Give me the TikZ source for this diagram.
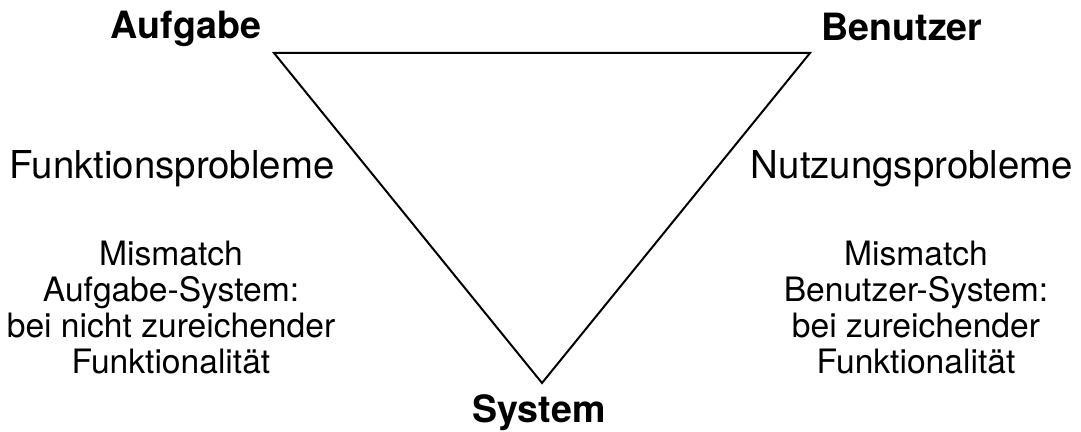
\documentclass[tikz,border=0pt]{standalone}
\usepackage{fontspec}
\setmainfont{TeX Gyre Heros}
\usepackage{tikz}

\begin{document}
\begin{tikzpicture}[
  x=0.5pt,
  y=0.5pt,
  edge/.style={draw=black, line width=1pt, line join=miter},
  corner/.style={font=\fontsize{18.8}{22}\selectfont\bfseries, anchor=base},
  problem/.style={font=\fontsize{19.2}{23}\selectfont, anchor=base},
  mismatch/.style={font=\fontsize{16.8}{18}\selectfont, align=center}
]
\useasboundingbox (0,0) rectangle (1081,432);

% triangle corners
\coordinate (aufg) at (274,379);
\coordinate (benu) at (810,379);
\coordinate (syst) at (542,49);
\draw[edge] (aufg) -- (benu) -- (syst) -- cycle;

% corner labels
\node[corner] (laufg) at (186,393) {Aufgabe};
\node[corner] (lbenu) at (902,391) {Benutzer};
\node[corner] (lsyst) at (539,9) {System};

% left side
\node[problem] (funk) at (172,253) {Funktionsprobleme};
\node[mismatch] (mleft) at (171,124) {Mismatch\\Aufgabe-System:\\bei nicht zureichender\\Funktionalität};

% right side
\node[problem] (nutz) at (912,253) {Nutzungsprobleme};
\node[mismatch] (mright) at (916,124) {Mismatch\\Benutzer-System:\\bei zureichender\\Funktionalität};
\end{tikzpicture}
\end{document}
